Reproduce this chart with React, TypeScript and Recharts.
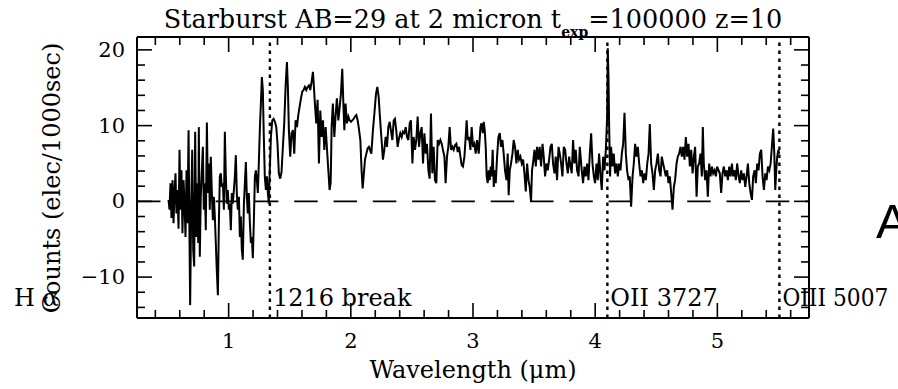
import React from "react";
import { LineChart, Line, XAxis, YAxis, ReferenceLine } from "recharts";

// spectrum, [wavelength in micron, counts per 1000 sec]
const lymanForest: [number, number][] = [
  [0.508, 0.2], [0.516, -1.1], [0.524, 2.4], [0.532, -2.2], [0.541, 2.8], [0.549, -2.9], [0.557, 1.1],
  [0.565, 3.7], [0.573, -1.6], [0.581, 1.5], [0.59, -3.6], [0.598, 6.8], [0.606, -1.1], [0.614, 4.1],
  [0.622, -4.2], [0.631, 2.8], [0.639, -0.3], [0.647, -4.7], [0.655, 4.1], [0.663, -2.9], [0.672, 9.4],
  [0.68, -5.5], [0.685, -13.7], [0.694, -0.3], [0.702, 6.8], [0.71, -6.4], [0.718, -8.6], [0.726, 9.2],
  [0.735, -4.7], [0.743, 2.4], [0.751, -5.5], [0.756, 9.8], [0.764, -7.3], [0.772, 0.6], [0.781, 4.1],
  [0.789, 7.2], [0.797, -1.1], [0.805, 2.4], [0.813, -3.8], [0.822, 10.4], [0.83, 1.1], [0.838, 5.0],
  [0.846, -1.1], [0.854, 5.9], [0.862, 1.5], [0.871, -2.5], [0.879, 0.6], [0.887, -2.0], [0.895, -5.5],
  [0.903, -9.1], [0.912, -12.4], [0.92, -2.9], [0.928, 3.3], [0.936, 3.7], [0.944, 1.9], [0.953, 2.4],
  [0.961, -1.1], [0.969, 9.2], [0.977, 3.3], [0.985, -0.3], [0.993, 1.5], [1.002, -1.1], [1.01, -0.3],
  [1.018, -3.8], [1.026, 1.1], [1.034, -0.3], [1.043, 1.5], [1.051, 3.3], [1.059, 6.1], [1.067, 1.1],
  [1.075, -1.1], [1.084, 0.6], [1.092, -4.7], [1.1, -2.0], [1.108, -6.4], [1.116, -7.7], [1.125, -0.3],
  [1.133, 2.4], [1.141, 5.2], [1.149, 0.6], [1.157, -1.6], [1.165, 1.1], [1.174, -2.9], [1.182, -5.5],
  [1.19, -4.7], [1.198, -7.5], [1.206, -2.9], [1.215, 3.3], [1.223, 4.1], [1.231, 2.8], [1.239, 1.1],
  [1.247, 5.0], [1.256, 9.8], [1.264, 12.9], [1.272, 16.4], [1.28, 14.7], [1.288, 8.5], [1.296, 3.3],
  [1.305, 1.5], [1.313, 3.3], [1.321, 1.1], [1.329, -0.3],
];

const breakBump: [number, number][] = [
  [1.335, 3.3], [1.346, 8.5], [1.357, 10.7], [1.368, 10.9], [1.379, 10.5], [1.39, 9.8], [1.4, 7.6],
  [1.411, 3.7], [1.422, 3.0], [1.433, 3.9], [1.444, 7.2], [1.455, 10.3], [1.466, 15.1], [1.477, 18.4],
  [1.485, 15.1], [1.493, 9.4], [1.504, 5.9], [1.515, 9.0], [1.526, 9.4], [1.537, 6.3], [1.548, 10.7],
  [1.559, 9.8], [1.57, 11.4], [1.581, 12.5], [1.592, 13.6], [1.603, 14.5], [1.613, 14.7], [1.624, 15.1],
  [1.635, 14.7], [1.646, 15.1], [1.657, 15.3], [1.668, 14.7], [1.679, 15.8], [1.69, 17.1], [1.698, 15.1],
  [1.706, 12.9], [1.717, 10.3], [1.728, 13.4], [1.739, 5.0], [1.75, 12.0], [1.761, 8.5], [1.772, 10.7],
  [1.783, 6.8], [1.794, 9.8], [1.804, 7.2], [1.816, 4.1], [1.826, 1.5], [1.835, 2.4], [1.843, 9.8],
  [1.853, 12.9], [1.865, 8.5], [1.875, 11.2], [1.886, 13.6], [1.898, 10.7], [1.908, 12.3], [1.919, 14.2],
  [1.93, 17.5], [1.939, 12.9], [1.947, 9.4], [1.957, 12.9], [1.968, 10.3], [1.98, 11.2], [1.99, 10.7],
  [2.001, 10.5], [2.012, 10.7], [2.023, 10.9], [2.034, 11.2], [2.045, 11.4], [2.056, 10.7], [2.066, 9.6],
  [2.078, 8.1], [2.088, 4.1], [2.097, 1.7], [2.105, 3.3], [2.116, 5.5], [2.127, 6.3], [2.138, 7.0],
  [2.149, 7.2],
];

const midContinuum: [number, number][] = [
  [2.168, 6.3], [2.181, 9.4], [2.195, 12.0], [2.206, 14.2], [2.217, 15.1], [2.228, 13.8], [2.238, 11.2],
  [2.25, 8.5], [2.263, 5.5], [2.274, 6.8], [2.285, 8.5], [2.296, 7.2], [2.307, 9.8], [2.318, 10.5],
  [2.328, 9.4], [2.34, 8.1], [2.351, 10.7], [2.361, 10.9], [2.373, 9.2], [2.383, 7.2], [2.394, 8.3],
  [2.405, 9.0], [2.416, 8.5], [2.427, 9.2], [2.438, 9.0], [2.449, 9.8], [2.46, 8.5], [2.471, 8.1],
  [2.482, 10.3], [2.492, 10.7], [2.504, 5.0], [2.514, 8.5], [2.525, 6.8], [2.536, 8.1], [2.547, 11.2],
  [2.558, 7.2], [2.569, 9.0], [2.58, 9.8], [2.591, 5.0], [2.602, 9.0], [2.613, 6.3], [2.623, 7.6],
  [2.635, 4.1], [2.645, 3.0], [2.656, 11.6], [2.667, 3.7], [2.678, 7.2], [2.689, 2.8], [2.7, 2.4],
  [2.711, 8.1], [2.722, 7.6], [2.733, 8.1], [2.744, 7.6], [2.754, 6.8], [2.766, 5.9], [2.776, 2.4],
  [2.787, 5.9], [2.798, 7.2], [2.809, 9.8], [2.82, 6.8], [2.831, 7.2], [2.842, 6.8], [2.853, 7.4],
  [2.864, 7.6], [2.875, 6.5], [2.886, 7.2], [2.897, 5.9], [2.907, 4.8], [2.918, 4.6], [2.93, 5.9],
  [2.94, 8.5], [2.948, 10.7], [2.957, 8.1], [2.967, 8.5], [2.979, 6.8], [2.989, 9.8], [3.0, 7.2],
  [3.011, 7.6], [3.022, 6.3],
];

const redContinuum: [number, number][] = [
  [3.033, 8.1], [3.047, 6.3], [3.061, 9.8], [3.069, 10.3], [3.08, 9.0], [3.088, 10.5], [3.096, 9.4],
  [3.104, 7.2], [3.112, 3.3], [3.12, 2.4], [3.129, 4.1], [3.137, 2.8], [3.145, 4.6], [3.153, 3.3],
  [3.161, 6.8], [3.17, 1.9], [3.178, 4.1], [3.186, 2.4], [3.197, 5.9], [3.208, 8.5], [3.219, 9.0],
  [3.229, 7.2], [3.241, 8.1], [3.251, 6.3], [3.262, 4.1], [3.274, 2.8], [3.284, 6.3], [3.292, 0.8],
  [3.301, 4.1], [3.311, 5.0], [3.323, 6.3], [3.333, 8.1], [3.344, 7.2], [3.355, 5.0], [3.366, 6.8],
  [3.377, 5.5], [3.388, 5.9], [3.399, 5.0], [3.41, 5.5], [3.421, 3.7], [3.432, 1.3], [3.443, 5.0],
  [3.454, 2.8], [3.464, 1.9], [3.475, 0.0], [3.483, 4.1], [3.491, 5.0], [3.503, 6.8], [3.514, 4.6],
  [3.524, 7.2], [3.536, 5.5], [3.546, 7.2], [3.557, 4.6], [3.569, 7.6], [3.579, 5.9], [3.59, 3.3],
  [3.601, 5.0], [3.612, 4.1], [3.623, 5.5], [3.634, 7.2], [3.645, 7.6], [3.655, 5.0], [3.667, 3.7],
  [3.677, 5.9], [3.688, 2.8], [3.7, 7.2], [3.71, 6.3], [3.721, 5.0], [3.732, 3.3], [3.743, 7.2],
  [3.754, 6.8], [3.765, 5.0], [3.776, 3.7], [3.787, 5.9], [3.798, 4.6], [3.808, 3.7], [3.819, 8.1],
  [3.83, 5.0], [3.841, 6.8], [3.852, 4.1], [3.864, 3.3], [3.874, 7.2],
];

const oiiRegion: [number, number][] = [
  [3.89, 4.1], [3.901, 2.4], [3.912, 4.6], [3.923, 3.3], [3.934, 5.0], [3.945, 2.8], [3.956, 6.3],
  [3.967, 9.0], [3.978, 5.0], [3.989, 3.3], [3.999, 2.4], [4.011, 5.0], [4.021, 2.8], [4.032, 6.3],
  [4.044, 3.3], [4.054, 1.5], [4.065, 5.9], [4.076, 4.1], [4.087, 6.8], [4.098, 11.2], [4.103, 20.2],
  [4.109, 16.4], [4.114, 10.3], [4.122, 3.3], [4.13, 7.2], [4.142, 4.6], [4.152, 6.3], [4.163, 3.7],
  [4.175, 5.0], [4.185, 3.3], [4.196, 5.0], [4.207, 4.1], [4.218, 6.3], [4.229, 7.6], [4.24, 11.7],
  [4.251, 6.3], [4.261, 4.1], [4.273, 2.8], [4.283, 3.3], [4.294, -0.7], [4.306, 3.3], [4.316, 5.0],
  [4.327, 7.6], [4.338, 5.9], [4.349, 7.2], [4.36, 5.0], [4.371, 3.3], [4.382, 4.1], [4.393, 2.4],
  [4.404, 3.7], [4.415, 2.8], [4.426, 5.0], [4.437, 6.3], [4.447, 10.2], [4.458, 5.0], [4.469, 3.7],
  [4.48, 1.5], [4.491, 4.1], [4.502, 5.0], [4.513, 6.3], [4.524, 4.1], [4.535, 3.3], [4.545, 5.9],
  [4.556, 5.0], [4.568, 4.1], [4.578, 3.3], [4.589, 4.1], [4.6, 2.4], [4.611, 3.3], [4.622, 1.1],
  [4.633, -1.1], [4.644, 1.9], [4.654, 2.8], [4.666, 5.0], [4.676, 5.9], [4.687, 6.3], [4.699, 7.2],
  [4.709, 5.9],
];

const redTail: [number, number][] = [
  [4.72, 7.2], [4.731, 5.5], [4.742, 8.5], [4.753, 5.9], [4.764, 7.6], [4.775, 4.6], [4.786, 6.8],
  [4.797, 3.7], [4.808, 5.9], [4.818, 7.2], [4.83, 0.6], [4.84, 4.6], [4.851, 5.0], [4.862, 6.3],
  [4.873, 3.3], [4.881, 9.8], [4.889, 5.0], [4.9, 2.8], [4.911, 4.1], [4.922, 0.6], [4.933, 5.0],
  [4.944, 3.3], [4.955, 4.6], [4.966, 3.7], [4.977, 4.1], [4.988, 3.3], [4.998, 4.6], [5.01, 4.1],
  [5.02, 3.7], [5.031, 1.1], [5.042, 3.7], [5.053, 4.6], [5.064, 3.3], [5.075, 4.1], [5.086, 2.8],
  [5.097, 4.6], [5.108, 3.3], [5.119, 5.0], [5.129, 3.3], [5.141, 4.1], [5.151, 2.8], [5.162, 5.0],
  [5.174, 3.3], [5.184, 2.4], [5.195, 4.1], [5.206, 2.8], [5.217, 3.7], [5.228, 1.9], [5.239, 3.3],
  [5.25, 5.0], [5.261, 2.4], [5.272, 1.1], [5.283, 0.2], [5.293, 3.3], [5.305, 4.1], [5.315, 2.4],
  [5.326, 5.0], [5.337, 4.1], [5.348, 6.3], [5.359, 6.8], [5.37, 3.3], [5.381, 1.5], [5.392, 3.7],
  [5.403, 2.8], [5.414, 4.6], [5.425, 4.1], [5.436, 5.0], [5.446, 7.2], [5.457, 9.6], [5.466, 6.3],
  [5.474, 1.5], [5.482, 4.1], [5.49, 5.9], [5.499, 6.8], [5.507, 6.3],
];

const spectrum = [...lymanForest, ...breakBump, ...midContinuum, ...redContinuum, ...oiiRegion, ...redTail].map(
  ([wave, counts]) => ({ wave, counts })
);

const X_TICKS = [
  0.4, 0.6, 0.8, 1, 1.2, 1.4, 1.6, 1.8, 2, 2.2, 2.4, 2.6, 2.8, 3, 3.2, 3.4, 3.6, 3.8, 4, 4.2, 4.4, 4.6, 4.8,
  5, 5.2, 5.4, 5.6,
];
const Y_TICKS = [-14, -12, -10, -8, -6, -4, -2, 0, 2, 4, 6, 8, 10, 12, 14, 16, 18, 20];
const X_DOMAIN: [number, number] = [0.25, 5.75];
const Y_DOMAIN: [number, number] = [-15.4, 21.7];

// break and emission lines, redshifted by z=10
const REDSHIFT = 10;
const markers = [
  { name: "1216 break", rest: 1216 },
  { name: "OII 3727", rest: 3727 },
  { name: "OIII 5007", rest: 5007 },
];

const FONT = "'DejaVu Serif', serif";
const TICK_FONT = 21;
const MAJOR = 15;
const MINOR = 8;

const xMajor = (v: number) => Number.isInteger(v);
const yMajor = (v: number) => v % 10 === 0;

function BottomTick({ x, y, payload }: any) {
  const major = xMajor(payload.value);
  return (
    <g>
      <line x1={x} x2={x} y1={y} y2={y - (major ? MAJOR : MINOR)} stroke="#000" strokeWidth={1.6} />
      {major && (
        <text x={x} y={y + 30} textAnchor="middle" fontFamily={FONT} fontSize={TICK_FONT} fill="#000">
          {payload.value}
        </text>
      )}
    </g>
  );
}

function TopTick({ x, y, payload }: any) {
  const major = xMajor(payload.value);
  return <line x1={x} x2={x} y1={y} y2={y + (major ? MAJOR : MINOR)} stroke="#000" strokeWidth={1.6} />;
}

function LeftTick({ x, y, payload }: any) {
  const major = yMajor(payload.value);
  const label = payload.value < 0 ? `\u2212${Math.abs(payload.value)}` : `${payload.value}`;
  return (
    <g>
      <line x1={x} x2={x + (major ? MAJOR : MINOR)} y1={y} y2={y} stroke="#000" strokeWidth={1.6} />
      {major && (
        <text x={x - 12} y={y + 7} textAnchor="end" fontFamily={FONT} fontSize={TICK_FONT} fill="#000">
          {label}
        </text>
      )}
    </g>
  );
}

function RightTick({ x, y, payload }: any) {
  const major = yMajor(payload.value);
  return <line x1={x} x2={x - (major ? MAJOR : MINOR)} y1={y} y2={y} stroke="#000" strokeWidth={1.6} />;
}

function MarkerLabel({ viewBox, name }: any) {
  if (!viewBox) return null;
  return (
    <text
      x={viewBox.x + 3}
      y={viewBox.y + viewBox.height - 12}
      fontFamily={FONT}
      fontSize={24}
      fill="#000"
      textLength={name === "OIII 5007" ? 106 : undefined}
      lengthAdjust="spacingAndGlyphs"
    >
      {name}
    </text>
  );
}

const axisLine = { stroke: "#000", strokeWidth: 2 };

export default function App() {
  return (
    <div style={{ position: "absolute", left: 0, top: 0, width: 898, height: 389, background: "#fff" }}>
      <LineChart width={898} height={389} data={spectrum} margin={{ top: 0, right: 0, bottom: 0, left: 0 }}>
        <XAxis
          dataKey="wave"
          type="number"
          domain={X_DOMAIN}
          allowDataOverflow
          ticks={X_TICKS}
          interval={0}
          height={71}
          tickSize={0}
          tickMargin={0}
          tickLine={false}
          axisLine={axisLine}
          tick={<BottomTick />}
        />
        <XAxis
          xAxisId="top"
          orientation="top"
          dataKey="wave"
          type="number"
          domain={X_DOMAIN}
          allowDataOverflow
          ticks={X_TICKS}
          interval={0}
          height={37}
          tickSize={0}
          tickMargin={0}
          tickLine={false}
          axisLine={axisLine}
          tick={<TopTick />}
        />
        <YAxis
          type="number"
          domain={Y_DOMAIN}
          allowDataOverflow
          ticks={Y_TICKS}
          interval={0}
          width={137}
          tickSize={0}
          tickMargin={0}
          tickLine={false}
          axisLine={axisLine}
          tick={<LeftTick />}
        />
        <YAxis
          yAxisId="right"
          orientation="right"
          type="number"
          domain={Y_DOMAIN}
          allowDataOverflow
          ticks={Y_TICKS}
          interval={0}
          width={89}
          tickSize={0}
          tickMargin={0}
          tickLine={false}
          axisLine={axisLine}
          tick={<RightTick />}
        />
        <ReferenceLine y={0} stroke="#000" strokeWidth={1.6} strokeDasharray="23.5 15.8" />
        {markers.map((m) => (
          <ReferenceLine
            key={m.name}
            x={(m.rest * (1 + REDSHIFT)) / 10000}
            stroke="#000"
            strokeWidth={2.4}
            strokeDasharray="3.5 4.5"
            label={<MarkerLabel name={m.name} />}
          />
        ))}
        <Line
          type="linear"
          dataKey="counts"
          stroke="#000"
          strokeWidth={2}
          dot={false}
          isAnimationActive={false}
        />
      </LineChart>
      <svg
        width={898}
        height={389}
        style={{ position: "absolute", left: 0, top: 0, pointerEvents: "none" }}
        fontFamily={FONT}
        fill="#000"
      >
        <text x={473} y={28} textAnchor="middle" fontSize={25.5}>
          Starburst AB=29 at 2 micron t
          <tspan fontSize={14} fontWeight="bold" dy={9}>
            exp
          </tspan>
          <tspan dy={-9}>=100000 z=10</tspan>
        </text>
        <text x={473} y={378} textAnchor="middle" fontSize={24}>
          Wavelength (μm)
        </text>
        <text transform="translate(60,178) rotate(-90)" textAnchor="middle" fontSize={24}>
          Counts (elec/1000sec)
        </text>
        <text x={14} y={306} fontSize={24}>
          H α
        </text>
        <text x={876} y={238} fontSize={49} fontFamily="'Liberation Sans', Arial, sans-serif">
          A
        </text>
      </svg>
    </div>
  );
}
